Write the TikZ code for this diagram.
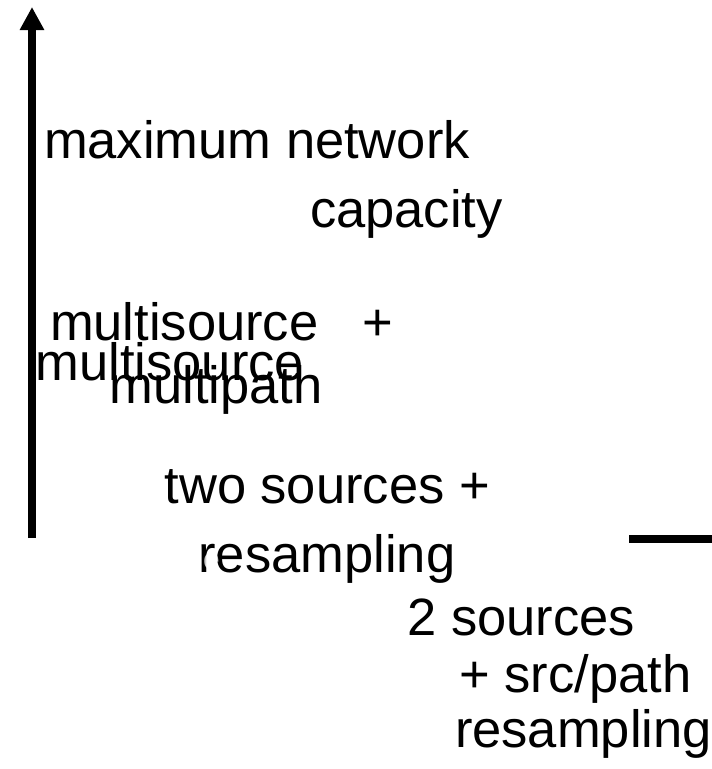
\documentclass[tikz,border=0pt]{standalone}
\usepackage{fontspec}
\setmainfont{Liberation Sans}
\usetikzlibrary{arrows.meta}
\tikzset{
  lbl/.style={anchor=base west, inner sep=0pt, outer sep=0pt, font=\fontsize{52.5}{60}\selectfont, text=black},
  thickline/.style={line width=8pt, draw=black}
}
\begin{document}
\begin{tikzpicture}[x=1pt,y=-1pt]
\useasboundingbox (0,0) rectangle (712,769);
% axis
\coordinate (axbot) at (32,538);
\coordinate (axtop) at (32,7);
\draw[thickline, -{Triangle[length=23pt,width=23pt]}] (axbot) -- (axtop);
% right stub
\coordinate (hl1) at (629,539);
\coordinate (hl2) at (712,539);
\draw[thickline] (hl1) -- (hl2);
% labels
\node[lbl] (maxnet) at (44,158) {maximum network};
\node[lbl] (cap) at (310,227) {capacity};
\node[lbl] (msa) at (50,340) {multisource\ \ \ +};
\node[lbl] (msb) at (35.6,380) {multisource};
\node[lbl] (mp) at (109.6,403) {multipath};
\node[lbl] (two) at (164.5,503) {two sources +};
\node[lbl] (resa) at (198.5,572) {resampling};
\node[anchor=base west, inner sep=0pt, font=\fontsize{30}{34}\selectfont, text=white, text opacity=0.8] (wee) at (203,569) {e};
\node[lbl] (twos) at (407.5,635) {2 sources};
\node[lbl] (srcp) at (459.4,692) {+ src/path};
\node[lbl] (resb) at (455,747) {resampling};
\end{tikzpicture}
\end{document}
